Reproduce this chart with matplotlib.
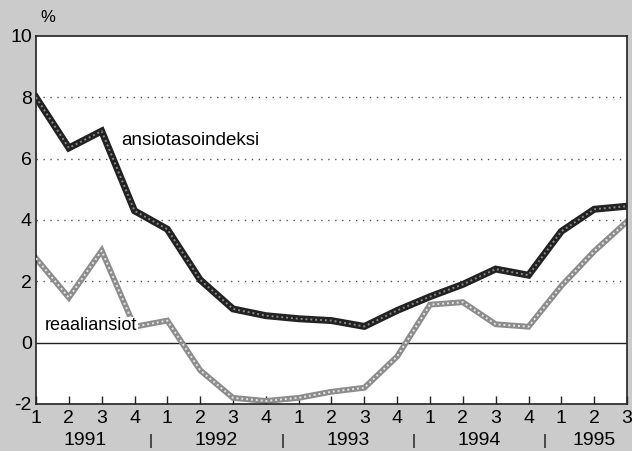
import matplotlib.pyplot as plt

plt.rcParams['font.family'] = ['Liberation Sans', 'DejaVu Sans']

# neljännekset 1991Q1 - 1995Q3
quarters = ['1', '2', '3', '4'] * 4 + ['1', '2', '3']
years = ['1991', '1992', '1993', '1994', '1995']
year_centers = [1.5, 5.5, 9.5, 13.5, 17]
year_seps = [3.5, 7.5, 11.5, 15.5]

ansiotasoindeksi = [8.0, 6.35, 6.9, 4.3, 3.7, 2.05, 1.1, 0.88, 0.78, 0.72, 0.53,
                    1.05, 1.5, 1.9, 2.4, 2.2, 3.63, 4.35, 4.45]
reaaliansiot = [2.75, 1.47, 3.0, 0.52, 0.72, -0.9, -1.8, -1.9, -1.8, -1.6, -1.47,
                -0.45, 1.24, 1.32, 0.6, 0.52, 1.85, 2.98, 3.95]

x = list(range(len(quarters)))

fig = plt.figure(figsize=(6.32, 4.51), dpi=100, facecolor='#cbcbcb')
ax = fig.add_axes([36 / 632, 1 - 404 / 451, 591 / 632, 368 / 451])
ax.set_facecolor('white')

# ruudukko
for yv in [2, 4, 6, 8]:
    ax.axhline(yv, color='#555555', lw=1, ls=(0, (1, 4)), zorder=1)
ax.axhline(0, color='#222222', lw=1, zorder=1)

# reaaliansiot (vaalea)
ax.plot(x, reaaliansiot, color='#8c8c8c', lw=4.2, solid_joinstyle='miter', zorder=2)
ax.plot(x, reaaliansiot, color='#e6e6e6', lw=1.4, ls=(0, (1, 1.5)), zorder=3)
# ansiotasoindeksi (tumma)
ax.plot(x, ansiotasoindeksi, color='#222222', lw=5, solid_joinstyle='miter', zorder=4)
ax.plot(x, ansiotasoindeksi, color='#8a8a8a', lw=1.4, ls=(0, (1, 1.5)), zorder=5)

ax.text(2.6, 6.6, 'ansiotasoindeksi', fontsize=13.5, va='center', ha='left', zorder=6)
ax.text(0.27, 0.55, 'reaaliansiot', fontsize=13, va='center', ha='left', zorder=6,
        bbox=dict(facecolor='white', edgecolor='none', pad=0.5))

ax.set_xlim(0, 18)
ax.set_ylim(-2, 10)
ax.set_yticks([-2, 0, 2, 4, 6, 8, 10])
ax.set_yticklabels(['-2', '0', '2', '4', '6', '8', '10'], fontsize=14)
ax.tick_params(axis='y', length=0, pad=3)
ax.set_xticks(x)
ax.set_xticklabels(quarters, fontsize=14)
ax.tick_params(axis='x', direction='in', length=6, width=1, pad=4, color='#222222')

for s in ax.spines.values():
    s.set_color('#222222')
    s.set_linewidth(1.2)

# vuodet
for xc, yr in zip(year_centers, years):
    ax.text(xc, -0.1, yr, transform=ax.get_xaxis_transform(), fontsize=14,
            ha='center', va='center')
for xs in year_seps:
    ax.text(xs, -0.1, '|', transform=ax.get_xaxis_transform(), fontsize=11,
            ha='center', va='center')

fig.text(48 / 632, 1 - 17 / 451, '%', fontsize=12, ha='center', va='center')

fig.savefig('out.png', dpi=100, facecolor=fig.get_facecolor())
